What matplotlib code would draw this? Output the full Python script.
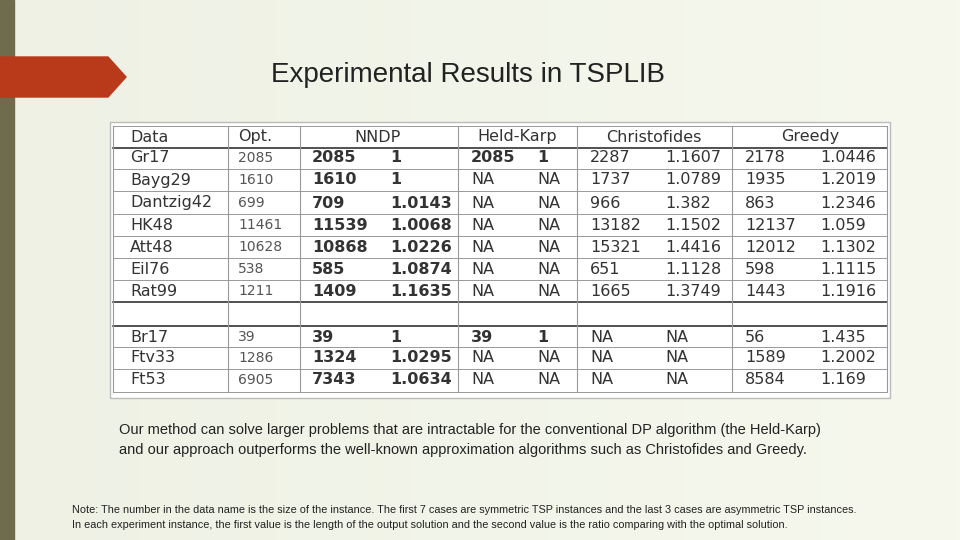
import matplotlib
matplotlib.use("Agg")
import matplotlib.pyplot as plt
from matplotlib.patches import Rectangle, Polygon
import numpy as np

names = ["Gr17", "Bayg29", "Dantzig42", "HK48", "Att48", "Eil76", "Rat99", "Br17", "Ftv33", "Ft53"]
opt = ["2085", "1610", "699", "11461", "10628", "538", "1211", "39", "1286", "6905"]
nndp_len = ["2085", "1610", "709", "11539", "10868", "585", "1409", "39", "1324", "7343"]
nndp_ratio = ["1", "1", "1.0143", "1.0068", "1.0226", "1.0874", "1.1635", "1", "1.0295", "1.0634"]
hk_len = ["2085", "NA", "NA", "NA", "NA", "NA", "NA", "39", "NA", "NA"]
hk_ratio = ["1", "NA", "NA", "NA", "NA", "NA", "NA", "1", "NA", "NA"]
chr_len = ["2287", "1737", "966", "13182", "15321", "651", "1665", "NA", "NA", "NA"]
chr_ratio = ["1.1607", "1.0789", "1.382", "1.1502", "1.4416", "1.1128", "1.3749", "NA", "NA", "NA"]
gr_len = ["2178", "1935", "863", "12137", "12012", "598", "1443", "56", "1589", "8584"]
gr_ratio = ["1.0446", "1.2019", "1.2346", "1.059", "1.1302", "1.1115", "1.1916", "1.435", "1.2002", "1.169"]
headers = ["Data", "Opt.", "NNDP", "Held-Karp", "Christofides", "Greedy"]

fig = plt.figure(figsize=(9.6, 5.4), dpi=100)
ax = fig.add_axes([0, 0, 1, 1])
ax.set_xlim(0, 960); ax.set_ylim(540, 0); ax.axis("off")
grad = np.linspace(0, 1, 256)[None, :]
ax.imshow(grad, extent=[0, 960, 540, 0], cmap=matplotlib.colors.LinearSegmentedColormap.from_list("g", ["#eef1e4", "#f6f8ee"]), aspect="auto", zorder=0)
ax.add_patch(Rectangle((0, 0), 14, 540, color="#6f6b4d", zorder=1))
ax.add_patch(Polygon([(0, 57), (108, 57), (126, 77), (108, 97), (0, 97)], color="#b83a1b", zorder=2))
ax.text(468, 75, "Experimental Results in TSPLIB", fontsize=20, ha="center", va="center", color="#222222", family="Liberation Sans")

ax.add_patch(Rectangle((110, 122), 780, 276, facecolor="white", edgecolor="#bbbbbb", lw=1, zorder=2))
colx = [130, 238, 312, 390, 471, 537, 590, 665, 745, 820]
hdrx = [150, 255, 378, 517, 654, 810]
rowy = [158, 180, 203, 225, 247, 269, 291, 337, 358, 380]
tc = "#333333"
for h, x in zip(headers, hdrx):
    ax.text(x, 137, h, fontsize=11.5, ha="center", va="center", color=tc, zorder=3)
for i, y in enumerate(rowy):
    vals = [names[i], opt[i], nndp_len[i], nndp_ratio[i], hk_len[i], hk_ratio[i],
            chr_len[i], chr_ratio[i], gr_len[i], gr_ratio[i]]
    for j, (v, x) in enumerate(zip(vals, colx)):
        bold = j in (2, 3) or (j in (4, 5) and v != "NA")
        ax.text(x, y, v, fontsize=11.5 if j != 1 else 10, ha="left", va="center", color=tc if j != 1 else "#555555",
                fontweight="bold" if bold else "normal", zorder=3)
for y in [126, 148, 169, 191, 214, 236, 258, 280, 302, 326, 347, 369, 392]:
    ax.plot([113, 887], [y, y], color="#333333" if y in (148, 302, 326) else "#999999", lw=1.2 if y in (148, 302, 326) else 0.7, zorder=3)
for x in [113, 228, 300, 458, 577, 732, 887]:
    ax.plot([x, x], [126, 392], color="#999999", lw=0.8, zorder=3)

ff = "Liberation Sans"
ax.text(119, 430, "Our method can solve larger problems that are intractable for the conventional DP algorithm (the Held-Karp)",
        fontsize=10.5, ha="left", va="center", color="#222222", family=ff)
ax.text(119, 450, "and our approach outperforms the well-known approximation algorithms such as Christofides and Greedy.",
        fontsize=10.5, ha="left", va="center", color="#222222", family=ff)
ax.text(72, 510, "Note: The number in the data name is the size of the instance. The first 7 cases are symmetric TSP instances and the last 3 cases are asymmetric TSP instances.",
        fontsize=7.8, ha="left", va="center", color="#222222", family=ff)
ax.text(72, 525, "In each experiment instance, the first value is the length of the output solution and the second value is the ratio comparing with the optimal solution.",
        fontsize=7.8, ha="left", va="center", color="#222222", family=ff)
fig.savefig("out.png", dpi=100)
